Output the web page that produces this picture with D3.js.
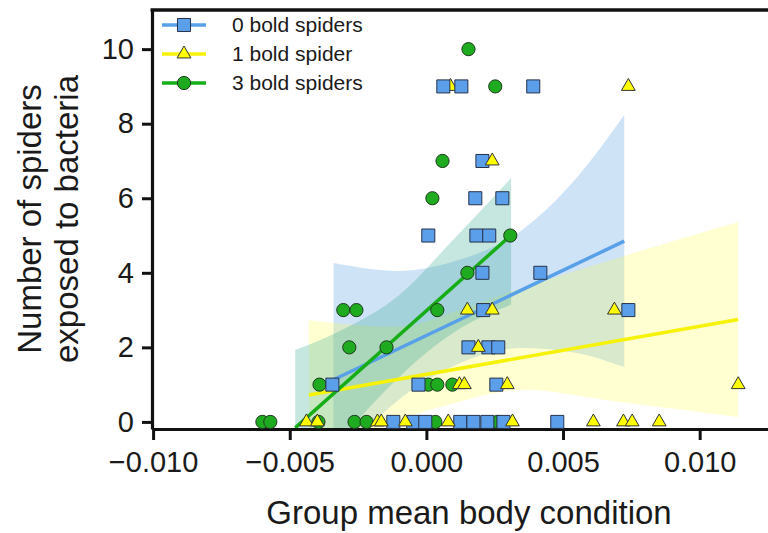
<!DOCTYPE html>
<html>
<head>
<meta charset="utf-8">
<script src="https://cdn.jsdelivr.net/npm/d3@7"></script>
<style>
  body { margin: 0; background: #fff; }
  text { font-family: "Liberation Sans", Arial, sans-serif; fill: #1a1a1a; }
</style>
</head>
<body>
<div id="chart"></div>
<script>
// ---- values ----
const groups = ["0 bold spiders", "1 bold spider", "3 bold spiders"];
const xTicks = [-0.010, -0.005, 0.000, 0.005, 0.010];
const yTicks = [0, 2, 4, 6, 8, 10];

// 0 bold spiders (blue squares)
const bold0X = [0.00062, 0.00128, 0.00391, 0.00205, 0.00179, 0.00278, 0.00007, 0.00183, 0.00230,
  0.00205, 0.00417, 0.00208, 0.00739, 0.00154, 0.00227, 0.00263, -0.00344, -0.00029, 0.00256,
  -0.00121, -0.00048, -0.00004, 0.00124, 0.00172, 0.00223, 0.00282, 0.00479];
const bold0Y = [9, 9, 9, 7, 6, 6, 5, 5, 5,
  4, 4, 3, 3, 2, 2, 2, 1, 1, 1,
  0, 0, 0, 0, 0, 0, 0, 0];

// 1 bold spider (yellow triangles)
const bold1X = [0.00088, 0.00739, 0.00241, 0.00150, 0.00241, 0.00688, 0.00190,
  0.00121, 0.00139, 0.00296, 0.01141,
  -0.00439, -0.00399, -0.00179, -0.00165, -0.00077, 0.00080, 0.00315, 0.00611, 0.00721, 0.00753, 0.00852];
const bold1Y = [9, 9, 7, 3, 3, 3, 2,
  1, 1, 1, 1,
  0, 0, 0, 0, 0, 0, 0, 0, 0, 0, 0];

// 3 bold spiders (green circles)
const bold3X = [0.00154, 0.00252, 0.00059, 0.00022, 0.00307, 0.00150,
  -0.00304, -0.00256, 0.00040, -0.00282, -0.00146,
  -0.00391, 0.00007, 0.00040, 0.00095,
  -0.00600, -0.00571, -0.00395, -0.00263, -0.00219, 0.00033, 0.00260];
const bold3Y = [10, 9, 7, 6, 5, 4,
  3, 3, 3, 2, 2,
  1, 1, 1, 1,
  0, 0, 0, 0, 0, 0, 0];

// fitted lines (end points)
const fit0X = [-0.0034, 0.00724], fit0Y = [1.13, 4.85];
const fit1X = [-0.0043, 0.01141], fit1Y = [0.72, 2.75];
const fit3X = [-0.0048, 0.0031], fit3Y = [-0.16, 5.01];

// confidence bands
const band0X = [-0.0034, -0.001, 0.001, 0.0035, 0.0055, 0.00724];
const band0Lo = [-1.2, 0.6, 1.5, 1.98, 1.85, 1.47];
const band0Hi = [4.26, 4.05, 4.3, 5.15, 6.55, 8.23];
const band1X = [-0.0043, -0.001, 0.001, 0.0035, 0.007, 0.01141];
const band1Lo = [-1.1, 0.05, 0.5, 0.86, 0.54, 0.13];
const band1Hi = [2.73, 2.55, 2.95, 3.6, 4.4, 5.36];
const band3X = [-0.0048, -0.003, -0.001, 0.001, 0.0031];
const band3Lo = [-2.3, -0.4, 1.2, 2.4, 3.14];
const band3Hi = [1.93, 2.5, 3.4, 4.9, 6.54];

const lineColors = ["#58a0e8", "#f6f20a", "#17ad17"];
const markFill = ["#5b9ee9", "#ffff00", "#1fab1f"];
const bandFill = ["#4f96e0", "#ffff33", "#2ca58d"];
const bandOpacity = [0.27, 0.22, 0.27];

// ---- layout ----
const W = 768, H = 533;
const plot = { left: 152, top: 10, right: 768, bottom: 429 };

const svg = d3.select("#chart")
  .append("svg")
  .attr("width", W)
  .attr("height", H);

const x = d3.scaleLinear().domain([-0.01004, 0.0125]).range([plot.left, plot.right]);
const y = d3.scaleLinear().domain([-0.19, 11.05]).range([plot.bottom, plot.top]);

svg.append("clipPath").attr("id", "clip")
  .append("rect")
  .attr("x", plot.left).attr("y", plot.top)
  .attr("width", plot.right - plot.left).attr("height", plot.bottom - plot.top);

const inner = svg.append("g").attr("clip-path", "url(#clip)");

// bands
const bands = [[band0X, band0Lo, band0Hi], [band1X, band1Lo, band1Hi], [band3X, band3Lo, band3Hi]];
bands.forEach(([bx, lo, hi], i) => {
  const pts = bx.map((v, k) => [v, lo[k], hi[k]]);
  inner.append("path")
    .datum(pts)
    .attr("fill", bandFill[i])
    .attr("fill-opacity", bandOpacity[i])
    .attr("d", d3.area()
      .curve(d3.curveMonotoneX)
      .x(d => x(d[0]))
      .y0(d => y(d[1]))
      .y1(d => y(d[2])));
});

// regression lines
const fits = [[fit0X, fit0Y], [fit1X, fit1Y], [fit3X, fit3Y]];
[1, 0, 2].forEach(i => {
  const [fx, fy] = fits[i];
  inner.append("path")
    .datum(fx.map((v, k) => [v, fy[k]]))
    .attr("fill", "none")
    .attr("stroke", lineColors[i])
    .attr("stroke-width", 3.5)
    .attr("d", d3.line().x(d => x(d[0])).y(d => y(d[1])));
});

// axes
const xAxis = svg.append("g")
  .attr("transform", `translate(0,${plot.bottom})`)
  .call(d3.axisBottom(x).tickValues(xTicks).tickFormat(d3.format(".3f"))
    .tickSize(11).tickSizeOuter(0).tickPadding(11));
const yAxis = svg.append("g")
  .attr("transform", `translate(${plot.left},0)`)
  .call(d3.axisLeft(y).tickValues(yTicks).tickFormat(d3.format("d"))
    .tickSize(10).tickSizeOuter(0).tickPadding(8));

[xAxis, yAxis].forEach(g => {
  g.select(".domain").attr("stroke", "#111").attr("stroke-width", 3.2);
  g.selectAll(".tick line").attr("stroke", "#111").attr("stroke-width", 3);
  g.selectAll(".tick text").style("font-size", "29px").attr("fill", "#1a1a1a");
});

// top frame line
svg.append("line")
  .attr("x1", plot.left - 1.5).attr("x2", plot.right)
  .attr("y1", plot.top).attr("y2", plot.top)
  .attr("stroke", "#111").attr("stroke-width", 3.5);

// points
const sq = d3.symbol().type(d3.symbolSquare).size(170);
const tri = d3.symbol().type(d3.symbolTriangle).size(82);

svg.append("g").selectAll("circle")
  .data(bold3X.map((v, k) => [v, bold3Y[k]]))
  .join("circle")
  .attr("cx", d => x(d[0])).attr("cy", d => y(d[1]))
  .attr("r", 6.6)
  .attr("fill", markFill[2]).attr("stroke", "#1e3a1e").attr("stroke-width", 1);

svg.append("g").selectAll("path")
  .data(bold1X.map((v, k) => [v, bold1Y[k]]).filter(d => d[1] === 9 && d[0] < 0.002))
  .join("path")
  .attr("transform", d => `translate(${x(d[0])},${y(d[1])})`)
  .attr("d", tri)
  .attr("fill", markFill[1]).attr("stroke", "#333").attr("stroke-width", 1);

svg.append("g").selectAll("path")
  .data(bold0X.map((v, k) => [v, bold0Y[k]]))
  .join("path")
  .attr("transform", d => `translate(${x(d[0])},${y(d[1])})`)
  .attr("d", sq)
  .attr("fill", markFill[0]).attr("stroke", "#26324a").attr("stroke-width", 1);

svg.append("g").selectAll("path")
  .data(bold1X.map((v, k) => [v, bold1Y[k]]).filter(d => !(d[1] === 9 && d[0] < 0.002)))
  .join("path")
  .attr("transform", d => `translate(${x(d[0])},${y(d[1])})`)
  .attr("d", tri)
  .attr("fill", markFill[1]).attr("stroke", "#333").attr("stroke-width", 1);

// axis titles
svg.append("text")
  .attr("x", 469).attr("y", 524)
  .attr("text-anchor", "middle")
  .style("font-size", "33px")
  .text("Group mean body condition");

const yl = svg.append("text")
  .attr("transform", "translate(0,219) rotate(-90)")
  .attr("text-anchor", "middle")
  .style("font-size", "33px");
yl.append("tspan").attr("x", 0).attr("y", 41).text("Number of spiders");
yl.append("tspan").attr("x", 0).attr("y", 78).text("exposed to bacteria");

// legend
const legendY = [25, 54, 83];
const legend = svg.append("g");
groups.forEach((name, i) => {
  legend.append("line")
    .attr("x1", 162).attr("x2", 206)
    .attr("y1", legendY[i]).attr("y2", legendY[i])
    .attr("stroke", lineColors[i]).attr("stroke-width", 3.5);
  const m = legend.append("g").attr("transform", `translate(184,${legendY[i]})`);
  if (i === 0) m.append("path").attr("d", sq).attr("fill", markFill[0]).attr("stroke", "#26324a");
  if (i === 1) m.append("path").attr("d", tri).attr("fill", markFill[1]).attr("stroke", "#333");
  if (i === 2) m.append("circle").attr("r", 6.6).attr("fill", markFill[2]).attr("stroke", "#1e3a1e");
  legend.append("text")
    .attr("x", 232).attr("y", legendY[i])
    .attr("dy", "0.35em")
    .style("font-size", "21px")
    .text(name);
});
</script>
</body>
</html>
